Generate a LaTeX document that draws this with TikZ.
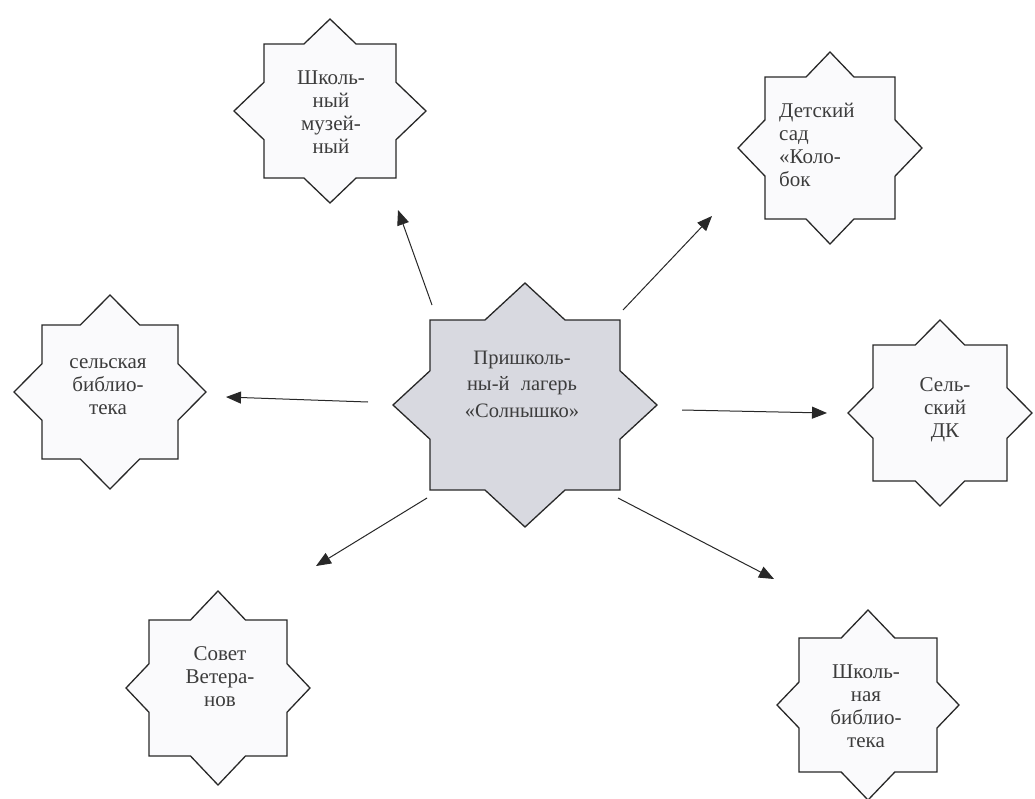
\documentclass[tikz,border=0pt]{standalone}
\usepackage{fontspec}
\setmainfont{Liberation Serif}
\usetikzlibrary{arrows.meta}
\definecolor{centerfill}{RGB}{216,217,224}
\definecolor{smallfill}{RGB}{250,250,252}
\definecolor{inkline}{RGB}{40,40,40}
\definecolor{inktext}{RGB}{60,60,60}
\newcommand\eightstar[7]{%
  \pgfmathsetmacro\starax{#5*(1-#4/#6)}%
  \pgfmathsetmacro\starby{#6*(1-#3/#5)}%
  \begin{scope}[shift={(#1,#2)}]
    \draw[#7] (0,-#6) -- (\starax,-#4) -- (#3,-#4) -- (#3,-\starby) -- (#5,0)
      -- (#3,\starby) -- (#3,#4) -- (\starax,#4) -- (0,#6) -- (-\starax,#4)
      -- (-#3,#4) -- (-#3,\starby) -- (-#5,0) -- (-#3,-\starby) -- (-#3,-#4)
      -- (-\starax,-#4) -- cycle;
  \end{scope}}
\tikzset{
  starline/.style={draw=inkline, line width=1.3pt, line join=miter},
  smallstar/.style={starline, fill=smallfill},
  bigstar/.style={starline, fill=centerfill},
  lbl/.style={text=inktext, align=center, inner sep=0pt, font=\fontsize{21}{23}\selectfont},
  biglbl/.style={lbl, font=\fontsize{20.5}{26.5}\selectfont},
  arr/.style={draw=inkline, line width=1pt, -{Triangle[length=15pt,width=12pt]}}
}
\begin{document}
\begin{tikzpicture}[x=1pt,y=-1pt]
\useasboundingbox[fill=white] (0,0) rectangle (1035,798);
% stars
\eightstar{330}{111}{66}{67}{96}{92}{smallstar}
\eightstar{525}{405}{95}{85}{132}{122}{bigstar}
\eightstar{830}{148}{65}{71}{92}{96}{smallstar}
\eightstar{940}{413}{67}{68}{92}{93}{smallstar}
\eightstar{110}{392}{68}{67}{96}{97}{smallstar}
\eightstar{218}{688}{69}{68}{92}{97}{smallstar}
\eightstar{868}{705}{69}{67}{91}{95}{smallstar}
% labels
\node[biglbl] (camp) at (522,384) {Пришколь-\\ны-й\hspace{0.55em}лагерь\\«Солнышко»};
\node[lbl] (museum) at (331,112) {Школь-\\ный\\музей-\\ный};
\node[lbl, align=left, anchor=west] (kinder) at (779,145) {Детский\\сад\\«Коло-\\бок};
\node[lbl] (dk) at (945,410) {Сель-\\ский\\ДК};
\node[lbl] (vlib) at (108,387) {сельская\\библио-\\тека};
\node[lbl] (council) at (220,677) {Совет\\Ветера-\\нов};
\node[lbl] (slib) at (866,706) {Школь-\\ная\\библио-\\тека};
% arrow end points
\coordinate (m0) at (432,305); \coordinate (m1) at (398,210);
\coordinate (k0) at (623,310); \coordinate (k1) at (712,216);
\coordinate (v0) at (368,402); \coordinate (v1) at (226,397);
\coordinate (d0) at (682,410); \coordinate (d1) at (827,413);
\coordinate (c0) at (427,498); \coordinate (c1) at (316,566);
\coordinate (s0) at (618,498); \coordinate (s1) at (774,579);
\draw[arr] (m0) -- (m1);
\draw[arr] (k0) -- (k1);
\draw[arr] (v0) -- (v1);
\draw[arr] (d0) -- (d1);
\draw[arr] (c0) -- (c1);
\draw[arr] (s0) -- (s1);
\end{tikzpicture}
\end{document}
